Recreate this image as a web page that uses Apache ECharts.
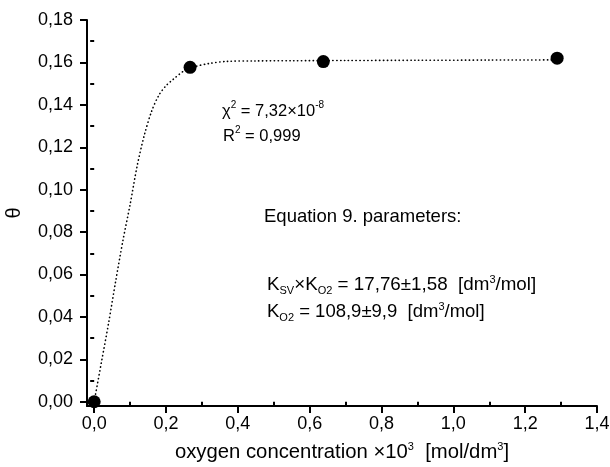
<!DOCTYPE html>
<html>
<head>
<meta charset="utf-8">
<script src="https://cdn.jsdelivr.net/npm/echarts@6/dist/echarts.min.js"></script>
<style>
html,body{margin:0;padding:0;background:#fff;}
#chart{width:610px;height:467px;}
</style>
</head>
<body>
<div id="chart"></div>
<script>
// measured points
const pointX = [0, 0.267, 0.638, 1.289];
const pointY = [0, 0.1577, 0.1604, 0.162];
// fitted curve
const fitX = [0, 0.02, 0.04, 0.06, 0.08, 0.10, 0.12, 0.14, 0.16, 0.18, 0.20, 0.22, 0.25, 0.28, 0.32, 0.37, 0.45, 0.55, 0.7, 0.9, 1.1, 1.29];
const fitY = [0, 0.0185, 0.037, 0.057, 0.076, 0.093, 0.1115, 0.126, 0.137, 0.1445, 0.149, 0.152, 0.156, 0.158, 0.1595, 0.1605, 0.1607, 0.1608, 0.1609, 0.161, 0.1611, 0.1612];
// ticks
const xMajor = [0, 0.2, 0.4, 0.6, 0.8, 1.0, 1.2, 1.4];
const xMinor = [0.1, 0.3, 0.5, 0.7, 0.9, 1.1, 1.3];
const yMajor = [0, 0.02, 0.04, 0.06, 0.08, 0.10, 0.12, 0.14, 0.16, 0.18];
const yMinor = [0.01, 0.03, 0.05, 0.07, 0.09, 0.11, 0.13, 0.15, 0.17];

const FONT = '"Liberation Sans", Arial, sans-serif';
const gridRect = {left: 87, right: 13, top: 20, bottom: 61, outerBoundsMode: 'none', containLabel: false};
const XMIN = -0.02, XMAX = 1.4, YMIN = -0.002, YMAX = 0.18;

function makeRich(fs) {
  return {
    m: {fontSize: fs, fontFamily: FONT, lineHeight: 22, color: '#000'},
    sup: {fontSize: Math.round(fs * 0.6), fontFamily: FONT, lineHeight: 6, verticalAlign: 'top', color: '#000'},
    sub: {fontSize: Math.round(fs * 0.58), fontFamily: FONT, lineHeight: 10, verticalAlign: 'bottom', color: '#000'}
  };
}

function txt(left, top, text, fs) {
  return {type: 'text', left: left, top: top, z: 10,
    style: {text: text, rich: makeRich(fs), font: fs + 'px ' + FONT, fill: '#000'}};
}

const chart = echarts.init(document.getElementById('chart'), null, {renderer: 'canvas'});
chart.setOption({
  animation: false,
  backgroundColor: '#fff',
  grid: [Object.assign({}, gridRect), Object.assign({}, gridRect)],
  xAxis: [{
    type: 'value', gridIndex: 0, min: XMIN, max: XMAX,
    name: 'oxygen concentration ×10{sup|3}  [mol/dm{sup|3}]',
    nameLocation: 'middle', nameGap: 35,
    nameTextStyle: {fontSize: 20.3, fontFamily: FONT, color: '#000', lineHeight: 22,
      rich: {sup: {fontSize: 11, fontFamily: FONT, lineHeight: 6, verticalAlign: 'top', color: '#000'}}},
    axisLine: {show: true, onZero: false, lineStyle: {color: '#000', width: 2}},
    axisTick: {show: true, inside: false, length: 7, customValues: xMajor, lineStyle: {color: '#000', width: 2}},
    axisLabel: {customValues: xMajor, margin: 9, fontSize: 18, fontFamily: FONT, color: '#000',
      formatter: v => v.toFixed(1).replace('.', ',')},
    splitLine: {show: false}
  }, {
    type: 'value', gridIndex: 1, min: XMIN, max: XMAX,
    axisLine: {show: false},
    axisTick: {show: true, inside: false, length: 4, customValues: xMinor, lineStyle: {color: '#000', width: 2}},
    axisLabel: {show: false},
    splitLine: {show: false}
  }],
  yAxis: [{
    type: 'value', gridIndex: 0, min: YMIN, max: YMAX,
    name: 'θ', nameLocation: 'middle', nameGap: 63, nameRotate: 90,
    nameTextStyle: {fontSize: 20, fontFamily: FONT, color: '#000'},
    axisLine: {show: true, onZero: false, lineStyle: {color: '#000', width: 2}},
    axisTick: {show: true, inside: false, length: 7, customValues: yMajor, lineStyle: {color: '#000', width: 2}},
    axisLabel: {customValues: yMajor, margin: 14, fontSize: 18, fontFamily: FONT, color: '#000',
      formatter: v => v.toFixed(2).replace('.', ',')},
    splitLine: {show: false}
  }, {
    type: 'value', gridIndex: 1, min: YMIN, max: YMAX,
    axisLine: {show: false},
    axisTick: {show: true, inside: false, length: 4, customValues: yMinor, lineStyle: {color: '#000', width: 2}},
    axisLabel: {show: false},
    splitLine: {show: false}
  }],
  series: [{
    type: 'line', xAxisIndex: 0, yAxisIndex: 0,
    data: fitX.map((x, i) => [x, fitY[i]]),
    showSymbol: false, symbol: 'none', smooth: 0.3,
    lineStyle: {color: '#000', width: 1.6, type: [0.3, 3.6], cap: 'round', opacity: 1},
    z: 2
  }, {
    type: 'scatter', xAxisIndex: 0, yAxisIndex: 0,
    data: pointX.map((x, i) => [x, pointY[i]]),
    symbol: 'circle', symbolSize: 13,
    itemStyle: {color: '#000', opacity: 1},
    z: 3
  }],
  graphic: [
    txt(222, 100, '{m|χ}{sup|2}{m| = 7,32×10}{sup|-8}', 16.5),
    txt(223, 125, '{m|R}{sup|2}{m| = 0,999}', 16.5),
    txt(264, 207, '{m|Equation 9. parameters:}', 18.5),
    txt(267, 274, '{m|K}{sub|SV}{m|×K}{sub|O2}{m| = 17,76±1,58  [dm}{sup|3}{m|/mol]}', 18.8),
    txt(267, 301, '{m|K}{sub|O2}{m| = 108,9±9,9  [dm}{sup|3}{m|/mol]}', 18.5)
  ]
});
</script>
</body>
</html>
